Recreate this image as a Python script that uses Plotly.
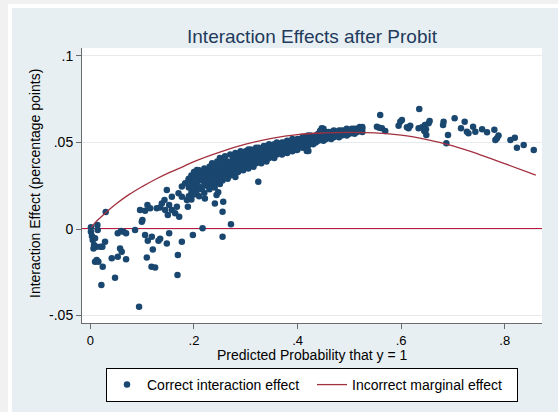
import plotly.graph_objects as go

# ---------------- data ----------------
# dense band of "correct interaction effect" points: x value and the y values stacked at it
band_x = [0.190, 0.195, 0.200, 0.205, 0.210, 0.215, 0.220, 0.225, 0.230, 0.235,
          0.240, 0.245, 0.250, 0.255, 0.260, 0.265, 0.270, 0.275, 0.280, 0.285,
          0.290, 0.295, 0.300, 0.305, 0.310, 0.315, 0.320, 0.325, 0.330, 0.335,
          0.340, 0.345, 0.350, 0.355, 0.360, 0.365, 0.370, 0.375, 0.380, 0.385,
          0.390, 0.395, 0.400, 0.405, 0.410, 0.415, 0.420, 0.425, 0.430, 0.435,
          0.440, 0.445, 0.450, 0.455, 0.460, 0.465, 0.470, 0.475, 0.480, 0.485,
          0.490, 0.495, 0.500, 0.505, 0.510, 0.515, 0.520, 0.525]
band_y = [[0.019, 0.024, 0.029], [0.017, 0.021, 0.026, 0.031], [0.020, 0.025, 0.029, 0.033],
          [0.022, 0.027, 0.031], [0.019, 0.024, 0.028, 0.034], [0.023, 0.029, 0.032],
          [0.021, 0.026, 0.030, 0.035], [0.025, 0.028, 0.033], [0.023, 0.027, 0.031, 0.036],
          [0.026, 0.030, 0.034, 0.038], [0.024, 0.029, 0.033, 0.037], [0.027, 0.031, 0.035, 0.039],
          [0.026, 0.030, 0.034, 0.038, 0.041], [0.028, 0.032, 0.036, 0.040], [0.030, 0.034, 0.037, 0.042],
          [0.029, 0.033, 0.036, 0.039], [0.031, 0.035, 0.038, 0.043], [0.032, 0.036, 0.040, 0.042],
          [0.030, 0.034, 0.037, 0.041, 0.044], [0.033, 0.037, 0.040, 0.043], [0.035, 0.038, 0.041, 0.045],
          [0.034, 0.037, 0.040, 0.043], [0.036, 0.039, 0.042, 0.045], [0.035, 0.038, 0.041, 0.044, 0.046],
          [0.037, 0.040, 0.043, 0.046], [0.036, 0.039, 0.042, 0.045], [0.038, 0.041, 0.044, 0.047],
          [0.039, 0.042, 0.045, 0.047], [0.038, 0.041, 0.044, 0.046], [0.040, 0.043, 0.046, 0.048],
          [0.039, 0.042, 0.045, 0.048], [0.041, 0.044, 0.047, 0.049], [0.042, 0.045, 0.047],
          [0.041, 0.044, 0.046, 0.049], [0.043, 0.046, 0.048, 0.050], [0.044, 0.047, 0.049],
          [0.043, 0.046, 0.048, 0.050], [0.045, 0.047, 0.050], [0.044, 0.047, 0.049, 0.051],
          [0.046, 0.048, 0.050], [0.045, 0.048, 0.050, 0.052], [0.047, 0.049, 0.051],
          [0.046, 0.048, 0.050, 0.052], [0.048, 0.050, 0.052], [0.047, 0.049, 0.051, 0.053],
          [0.049, 0.051, 0.053], [0.048, 0.050, 0.052, 0.054], [0.050, 0.052, 0.054],
          [0.049, 0.051, 0.053], [0.050, 0.052, 0.054], [0.051, 0.053, 0.055],
          [0.052, 0.054, 0.057], [0.051, 0.053, 0.055, 0.058], [0.052, 0.054, 0.056],
          [0.053, 0.055, 0.056], [0.052, 0.054, 0.056], [0.053, 0.055, 0.057],
          [0.054, 0.056], [0.053, 0.055, 0.057], [0.054, 0.056, 0.057],
          [0.055, 0.057], [0.054, 0.056, 0.058], [0.055, 0.057],
          [0.056, 0.058], [0.055, 0.057, 0.058], [0.056, 0.058],
          [0.057, 0.059], [0.056, 0.058, 0.059]]

# scattered points outside the dense band
spread_x = [0.001, 0.001, 0.003, 0.0045, 0.007, 0.006, 0.0122, 0.009, 0.0135, 0.0141,
            0.0199, 0.0231, 0.0283, 0.0122, 0.009, 0.0154, 0.0238, 0.0212, 0.0476, 0.0412,
            0.0528, 0.0573, 0.0605, 0.0689, 0.0528, 0.0592, 0.0638, 0.0689, 0.0863, 0.094,
            0.1089, 0.118, 0.1056, 0.1108, 0.1186, 0.1205, 0.1315, 0.1347, 0.1476, 0.1521,
            0.125, 0.1689, 0.1682, 0.1766, 0.1979, 0.0296, 0.0959, 0.1056, 0.1102, 0.1154,
            0.0992, 0.1005, 0.1282, 0.1347, 0.1379, 0.1431, 0.1476, 0.1521, 0.1444, 0.1495,
            0.1573, 0.1637, 0.167, 0.1715, 0.1573, 0.1702, 0.1766, 0.183, 0.1895, 0.1959,
            0.2024, 0.1863, 0.1927, 0.1882, 0.1766, 0.2024, 0.2088, 0.2056, 0.2088,
            0.3242, 0.221, 0.2404, 0.2565, 0.2552, 0.2468, 0.2436, 0.2714, 0.2166, 0.2552,
            0.4178, 0.3985, 0.4209, 0.4468, 0.4436,
            0.5596, 0.5532, 0.5628, 0.5693, 0.5577, 0.5983, 0.5951, 0.6015, 0.6112, 0.6176,
            0.6144, 0.635, 0.6337, 0.6402, 0.6447, 0.6531, 0.6486, 0.655, 0.646, 0.648,
            0.682, 0.681, 0.6905, 0.6873, 0.7033, 0.7227, 0.7156, 0.727, 0.730, 0.7389,
            0.7433, 0.7563, 0.7659, 0.78, 0.788, 0.785, 0.782, 0.811, 0.8195, 0.8236,
            0.8366, 0.8561]
spread_y = [0.001, -0.0016, -0.004, -0.0064, -0.0092, -0.0112, -0.0102, -0.0054, 0.0023, -0.0006,
            -0.0102, -0.0102, -0.0073, -0.0179, -0.0189, -0.0189, -0.0218, -0.0324, -0.0281, -0.0169,
            -0.016, -0.0112, -0.0131, -0.0175, -0.0025, -0.0012, -0.0016, -0.0025, -0.0006, -0.0449,
            -0.0164, -0.0218, -0.0035, -0.0068, -0.0044, -0.0118, -0.0068, -0.0056, -0.0083, -0.0025,
            -0.0222, -0.015, -0.0266, -0.0073, -0.0035, 0.0098, 0.011, 0.0106, 0.0139, 0.012,
            0.0042, 0.0052, 0.012, 0.0125, 0.0148, 0.0168, 0.0225, 0.0139, 0.011, 0.0081,
            0.011, 0.0091, 0.0129, 0.0071, 0.0187, 0.0206, 0.0245, 0.0264, 0.0283, 0.0235,
            0.0283, 0.0168, 0.0177, 0.0129, 0.0187, 0.0206, 0.0245, 0.0341, 0.0312,
            0.0273, 0.0177, 0.0148, 0.0158, 0.01, 0.0212, 0.0197, 0.0027, 0.0004, -0.0044,
            0.0451, 0.0457, 0.0451, 0.0582, 0.0566,
            0.0659, 0.0591, 0.0582, 0.0566, 0.0585, 0.062, 0.0597, 0.063, 0.0588, 0.0597,
            0.0582, 0.0694, 0.0582, 0.0588, 0.0566, 0.0611, 0.0543, 0.0624, 0.0601, 0.0576,
            0.062, 0.0601, 0.0543, 0.0495, 0.064, 0.062, 0.0582, 0.0562, 0.0553, 0.0591,
            0.0562, 0.0576, 0.0559, 0.0574, 0.054, 0.0524, 0.0514, 0.0514, 0.0528, 0.047,
            0.0486, 0.0457]

# incorrect marginal effect curve
curve_x = [0.002, 0.01, 0.02, 0.03, 0.05, 0.075, 0.1, 0.125, 0.15, 0.175, 0.2, 0.25,
           0.3, 0.35, 0.4, 0.45, 0.5, 0.55, 0.6, 0.65, 0.7, 0.75, 0.8, 0.86]
curve_y = [0.0010, 0.0040, 0.0068, 0.0096, 0.0146, 0.0200, 0.0245, 0.0286, 0.0323, 0.0355,
           0.0390, 0.0445, 0.0490, 0.0524, 0.0546, 0.0555, 0.0558, 0.0555, 0.0542, 0.0516,
           0.0480, 0.0432, 0.0378, 0.0312]

x_ticks = [0, 0.2, 0.4, 0.6, 0.8]
x_tick_labels = ["0", ".2", ".4", ".6", ".8"]
y_ticks = [-0.05, 0, 0.05, 0.1]
y_tick_labels = ["-.05", "0", ".05", ".1"]

# ---------------- figure ----------------
pts_x, pts_y = [], []
for bx, ys in zip(band_x, band_y):
    for y in ys:
        pts_x.append(bx)
        pts_y.append(y)
pts_x += spread_x
pts_y += spread_y

W, H = 558, 412
L, R, T, B = 82, 542, 48, 323  # plot area in pixels


def px(xp):
    return (xp - L) / (R - L)


def py(yp):
    return (B - yp) / (B - T)


FONT = "Liberation Sans, Arial, sans-serif"
NAVY = "#1a476f"

fig = go.Figure()
fig.add_trace(go.Scatter(
    x=pts_x, y=pts_y, mode="markers", name="Correct interaction effect",
    marker=dict(color=NAVY, size=6.5, line=dict(width=0)),
))
fig.add_trace(go.Scatter(
    x=curve_x, y=curve_y, mode="lines", name="Incorrect marginal effect",
    line=dict(color="#a3303f", width=1.3, shape="spline"),
))

shapes = [
    # white frame and light blue-grey graph region
    dict(type="rect", xref="paper", yref="paper", layer="below",
         x0=px(8), x1=px(W + 5), y0=py(H + 5), y1=py(4),
         fillcolor="#ffffff", line=dict(width=0)),
    dict(type="rect", xref="paper", yref="paper", layer="below",
         x0=px(12), x1=px(W + 5), y0=py(H + 5), y1=py(8),
         fillcolor="#e8eff2", line=dict(width=0)),
    dict(type="rect", xref="paper", yref="paper", layer="below",
         x0=0, x1=1, y0=0, y1=1, fillcolor="#ffffff", line=dict(width=0)),
    # y = 0 reference line
    dict(type="line", xref="paper", yref="y", x0=0, x1=1, y0=0, y1=0,
         line=dict(color="#c0163f", width=2), layer="below"),
]

annotations = [
    dict(text="Predicted Probability that y = 1", xref="paper", yref="paper",
         x=0.5, y=py(355), xanchor="center", yanchor="middle", showarrow=False,
         font=dict(family=FONT, size=14, color="#000000")),
    dict(text="Interaction Effect (percentage points)", xref="paper", yref="paper",
         x=px(35), y=py(184), xanchor="center", yanchor="middle", showarrow=False,
         textangle=-90, font=dict(family=FONT, size=14, color="#000000")),
]

fig.update_layout(
    width=W, height=H,
    margin=dict(l=L, r=W - R, t=T, b=H - B, autoexpand=False),
    paper_bgcolor="#f1f1f1",
    plot_bgcolor="#ffffff",
    font=dict(family=FONT, size=14, color="#000000"),
    title=dict(text="Interaction Effects after Probit", x=0.5, xref="paper",
               xanchor="center", y=1 - 36 / H, yref="container", yanchor="middle",
               font=dict(family=FONT, size=19, color="#1e3a5c")),
    showlegend=True,
    legend=dict(orientation="h", x=0.5, xanchor="center", y=py(368), yanchor="top",
                bgcolor="#ffffff", bordercolor="#000000", borderwidth=1,
                font=dict(family=FONT, size=14, color="#000000"),
                entrywidth=160, entrywidthmode="pixels", itemwidth=30),
    shapes=shapes,
    annotations=annotations,
)

fig.update_xaxes(
    range=[-0.0162, 0.872], tickvals=x_ticks, ticktext=x_tick_labels,
    showgrid=False, zeroline=False, showline=True, linecolor="#6a6a6a", linewidth=1,
    ticks="outside", ticklen=5, tickcolor="#6a6a6a", tickfont=dict(size=13, color="#000000"),
    automargin=False,
)
fig.update_yaxes(
    range=[-0.0543, 0.1046], tickvals=y_ticks, ticktext=y_tick_labels,
    showgrid=True, gridcolor="#e6eaec", gridwidth=1, zeroline=False,
    showline=True, linecolor="#6a6a6a", linewidth=1,
    ticks="outside", ticklen=5, tickcolor="#6a6a6a", tickfont=dict(size=14, color="#000000"),
    automargin=False,
)

fig.write_html(
    "out.html",
    config={"displayModeBar": False},
    post_script="document.body.style.margin='0';document.body.style.overflow='hidden';"
                "document.body.style.background='#f1f1f1';",
)
